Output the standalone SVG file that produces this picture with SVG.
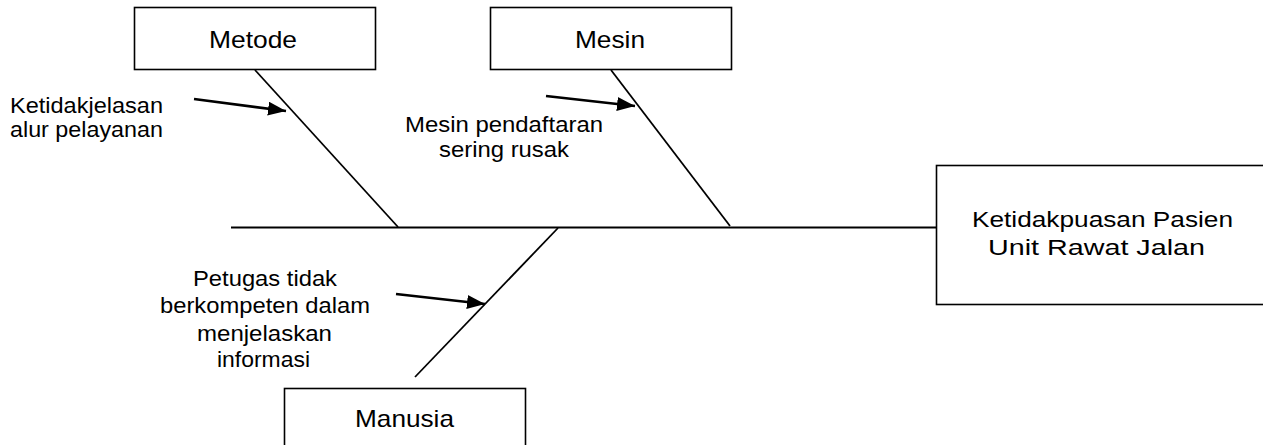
<svg xmlns="http://www.w3.org/2000/svg" width="1263" height="445" viewBox="0 0 1263 445">
<style>
.box{fill:#fff;stroke:#000;stroke-width:1.6}
.ln{stroke:#000;stroke-width:1.8;fill:none}
.ar{stroke:#000;stroke-width:2.6;fill:none}
.t{font-family:"Liberation Sans",Arial,sans-serif;fill:#000}
.l{font-size:24px}
.s{font-size:22px}
</style>
<defs>
<marker id="ah" markerUnits="userSpaceOnUse" markerWidth="20" markerHeight="16" refX="18" refY="7" orient="auto">
<path d="M0,0 L18,7 L0,14 Z" fill="#000"/>
</marker>
</defs>
<g id="connectors">
<line class="ln" x1="231" y1="227.5" x2="936" y2="227.5"/>
<line class="ln" x1="255" y1="70" x2="398" y2="227"/>
<line class="ln" x1="611" y1="70" x2="730" y2="226"/>
<line class="ln" x1="558" y1="228" x2="415" y2="377"/>
<line class="ar" x1="194" y1="99" x2="286" y2="111" marker-end="url(#ah)"/>
<line class="ar" x1="546" y1="96" x2="635" y2="106" marker-end="url(#ah)"/>
<line class="ar" x1="396" y1="294" x2="485" y2="304" marker-end="url(#ah)"/>
</g>
<g id="metode">
<rect class="box" x="134.5" y="7.5" width="241" height="62"/>
<text class="t l" x="209" y="48" textLength="88" lengthAdjust="spacingAndGlyphs">Metode</text>
</g>
<g id="mesin">
<rect class="box" x="490.5" y="7.5" width="241" height="62"/>
<text class="t l" x="575" y="48" textLength="70" lengthAdjust="spacingAndGlyphs">Mesin</text>
</g>
<g id="manusia">
<rect class="box" x="284.5" y="388.5" width="241" height="70"/>
<text class="t l" x="355" y="427" textLength="99" lengthAdjust="spacingAndGlyphs">Manusia</text>
</g>
<g id="effect">
<rect class="box" x="936.5" y="165.5" width="340" height="139"/>
<text class="t s" x="972" y="227" textLength="261" lengthAdjust="spacingAndGlyphs">Ketidakpuasan Pasien</text>
<text class="t s" x="988" y="255" textLength="217" lengthAdjust="spacingAndGlyphs">Unit Rawat Jalan</text>
</g>
<g id="cause-metode">
<text class="t s" x="10" y="113" textLength="153" lengthAdjust="spacingAndGlyphs">Ketidakjelasan</text>
<text class="t s" x="10" y="137" textLength="153" lengthAdjust="spacingAndGlyphs">alur pelayanan</text>
</g>
<g id="cause-mesin">
<text class="t s" x="405" y="132" textLength="198" lengthAdjust="spacingAndGlyphs">Mesin pendaftaran</text>
<text class="t s" x="439" y="157" textLength="130" lengthAdjust="spacingAndGlyphs">sering rusak</text>
</g>
<g id="cause-manusia">
<text class="t s" x="193" y="286" textLength="144" lengthAdjust="spacingAndGlyphs">Petugas tidak</text>
<text class="t s" x="160" y="313" textLength="210" lengthAdjust="spacingAndGlyphs">berkompeten dalam</text>
<text class="t s" x="197" y="341" textLength="135" lengthAdjust="spacingAndGlyphs">menjelaskan</text>
<text class="t s" x="217" y="367" textLength="93" lengthAdjust="spacingAndGlyphs">informasi</text>
</g>
</svg>
